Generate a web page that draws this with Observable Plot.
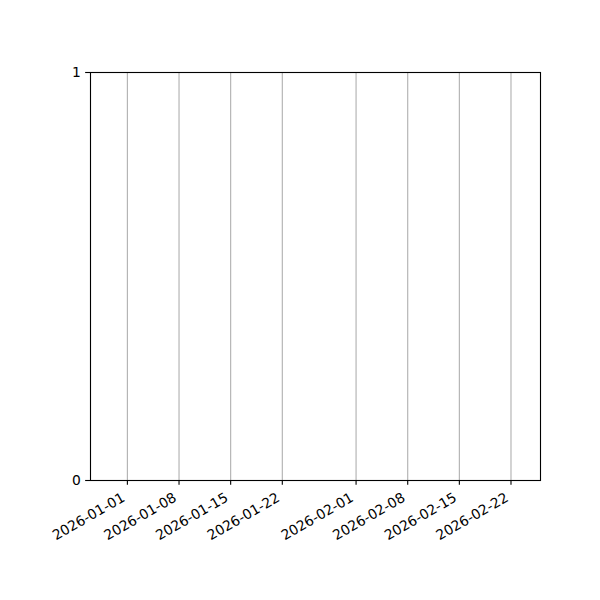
<!DOCTYPE html>
<html>
<head>
<meta charset="utf-8">
<script src="https://cdn.jsdelivr.net/npm/d3@7"></script>
<script src="https://cdn.jsdelivr.net/npm/@observablehq/plot@0.6"></script>
<style>
  html, body { margin: 0; padding: 0; background: #fff; }
  svg { display: block; }
</style>
</head>
<body>
<div id="chart"></div>
<script>
// Tick dates (x axis categories) and y tick values
const xTickLabels = ["2026-01-01", "2026-01-08", "2026-01-15", "2026-01-22", "2026-02-01", "2026-02-08", "2026-02-15", "2026-02-22"];
const xDomainStart = "2025-12-27";
const xDomainEnd = "2026-02-26";
const yTicks = [0, 1];

const xTicks = xTickLabels.map(s => new Date(s + "T00:00:00Z"));
const FS = 13.89;
const font = "DejaVu Sans, sans-serif";

const chart = Plot.plot({
  width: 600,
  height: 600,
  marginLeft: 90,
  marginRight: 60,
  marginTop: 72,
  marginBottom: 120,
  style: { fontFamily: font, fontSize: FS + "px", color: "black", background: "white" },
  x: { type: "utc", domain: [new Date(xDomainStart + "T00:00:00Z"), new Date(xDomainEnd + "T00:00:00Z")] },
  y: { domain: [0, 1] },
  marks: [
    Plot.ruleX(xTicks, { x: d => d, stroke: "#b0b0b0", strokeWidth: 1.11 }),
    Plot.axisX({ ticks: xTicks, tickSize: 4.86, tickFormat: () => "", label: null, strokeWidth: 1.11, stroke: "black" }),
    Plot.text(xTicks, {
      x: d => d,
      frameAnchor: "bottom",
      text: (d, i) => xTickLabels[i],
      rotate: -30,
      textAnchor: "end",
      lineAnchor: "bottom",
      dx: -1.6,
      dy: 19.8,
      fontSize: FS,
      fill: "black"
    }),
    Plot.axisY({ ticks: yTicks, tickSize: 4.86, tickPadding: 4.86, tickFormat: d => String(d), label: null, strokeWidth: 1.11, stroke: "black", fontSize: FS }),
    Plot.frame({ stroke: "black", strokeWidth: 1.11 })
  ]
});
document.getElementById("chart").appendChild(chart);
</script>
</body>
</html>
